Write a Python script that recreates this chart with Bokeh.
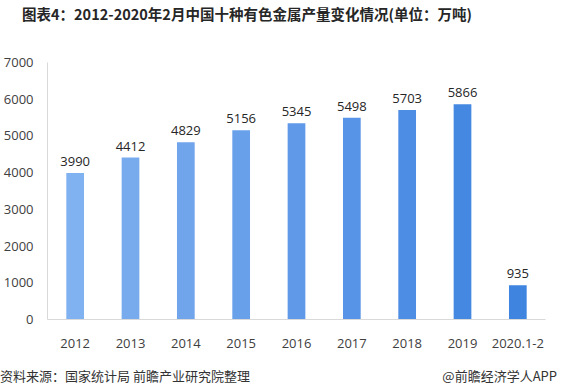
from bokeh.plotting import figure
from bokeh.models import ColumnDataSource, FixedTicker, Range1d, Div, Spacer
from bokeh.layouts import column, row
from bokeh.core.properties import value
from bokeh.embed import file_html
from bokeh.resources import INLINE

categories = ["2012", "2013", "2014", "2015", "2016", "2017", "2018", "2019", "2020.1-2"]
values = [3990, 4412, 4829, 5156, 5345, 5498, 5703, 5866, 935]
colors = ["#80b1f0", "#78abee", "#70a5ec", "#68a0ea", "#5f99e8", "#5793e6", "#4e8de4", "#4588e2", "#3f85e0"]
y_ticks = [0, 1000, 2000, 3000, 4000, 5000, 6000, 7000]

title_text = "图表4：2012-2020年2月中国十种有色金属产量变化情况(单位：万吨)"
source_text = "资料来源：国家统计局 前瞻产业研究院整理"
brand_text = "@前瞻经济学人APP"

W, H = 557, 334
L, R, T, B = 41, 12, 34, 43

src = ColumnDataSource(dict(cat=categories, val=values, color=colors,
                            lbl=[str(v) for v in values]))

p = figure(width=W, height=H, x_range=categories, y_range=Range1d(0, 7000),
           output_backend="svg", toolbar_location=None,
           min_border_left=L, min_border_right=R, min_border_top=T, min_border_bottom=B)
p.outline_line_color = None
p.background_fill_color = "white"
p.border_fill_color = "white"
p.xgrid.visible = False
p.ygrid.visible = False

p.vbar(x="cat", top="val", width=0.32, fill_color="color", line_color=None, source=src)
p.text(x="cat", y="val", text="lbl", source=src, text_align="center", text_baseline="bottom",
       y_offset=-7, text_font_size="13px", text_color="#262626", text_font=value("Open Sans"))

for ax in (p.xaxis[0], p.yaxis[0]):
    ax.axis_line_color = "#d9d9d9"
    ax.major_tick_line_color = None
    ax.minor_tick_line_color = None
    ax.major_label_text_font = "Open Sans"
    ax.major_label_text_font_size = "13px"
    ax.major_label_text_color = "#404040"
p.yaxis.ticker = FixedTicker(ticks=y_ticks)
p.yaxis.major_label_standoff = 8
p.xaxis.major_label_standoff = 13

title_div = Div(text=title_text, width=W - 22, height=28, margin=0,
                styles={"font-family": "Noto Sans CJK SC", "font-size": "14.5px",
                        "font-weight": "bold", "color": "#262626", "line-height": "28px",
                        "white-space": "nowrap"})
header = row(Spacer(width=22, height=28, margin=0), title_div, width=W, height=28, margin=0)

style = {"font-family": "Noto Sans CJK SC", "font-size": "13px", "color": "#333333",
         "line-height": "28px", "white-space": "nowrap"}
left_div = Div(text=source_text, width=300, height=28, margin=0, styles=style)
right_div = Div(text=brand_text, width=257, height=28, margin=0,
                styles=dict(style, **{"text-align": "right", "width": "257px"}))
footer = row(left_div, right_div, width=W, height=28, margin=0)
layout = column(header, p, footer, width=W, margin=0)

open("out.html", "w").write(file_html(layout, INLINE))
